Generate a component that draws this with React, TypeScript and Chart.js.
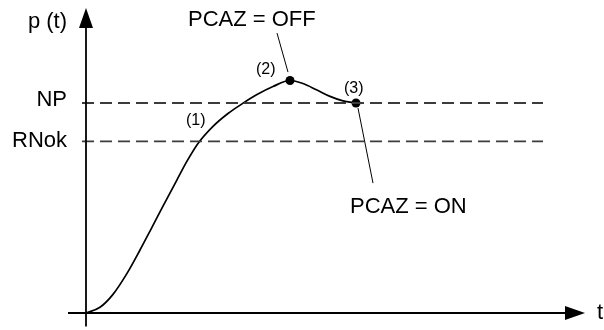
import React, { useEffect, useRef } from "react";
import { Chart, registerables } from "chart.js";

Chart.register(...registerables);

// Pressure curve p(t) (arbitrary units)
const curveT = [0, 0.28, 0.54, 0.82, 1.08, 1.28, 1.54, 1.82, 2.02, 2.24, 2.54, 2.84, 3.12, 3.42, 3.74, 4.08, 4.34, 4.62, 4.88, 5.14, 5.4];
const curveP = [0, 0.19, 0.62, 1.32, 2.1, 2.73, 3.56, 4.44, 5.06, 5.65, 6.22, 6.65, 6.97, 7.28, 7.55, 7.75, 7.65, 7.43, 7.22, 7.07, 7.0];

// Reference levels
const levelNames = ["NP", "RNok"];
const levelValues = [7.0, 5.72];
const levelStart = -0.08;
const levelEnd = 9.14;

// Marked points (2) and (3)
const markerT = [4.08, 5.4];
const markerP = [7.75, 7.0];

// Leader lines: [x1, y1, x2, y2]
const leaderOff = [3.82, 9.33, 4.04, 8.03];
const leaderOn = [5.44, 6.83, 5.74, 4.33];

// Axes extents
const xAxisFrom = -0.36;
const xAxisTip = 9.98;
const yAxisFrom = -0.45;
const yAxisTip = 10.17;

// Text annotations
const annTexts = ["p (t)", "NP", "RNok", "PCAZ = OFF", "PCAZ = ON", "(1)", "(2)", "(3)", "t"];
const annX = [-0.38, -0.38, -0.38, 2.04, 5.28, 2.0, 3.4, 5.16, 10.22];
const annY = [9.7, 7.1, 5.72, 9.77, 3.53, 6.43, 8.1, 7.47, 0];
const annAlign: CanvasTextAlign[] = ["right", "right", "right", "left", "left", "left", "left", "left", "left"];
const annSize = [22, 22, 22, 22, 22, 16, 16, 16, 22];

const FONT = '"Liberation Sans", Arial, Helvetica, sans-serif';

const diagramPlugin = {
  id: "diagram",
  afterDatasetsDraw(chart: any) {
    const ctx: CanvasRenderingContext2D = chart.ctx;
    const xs = chart.scales.x;
    const ys = chart.scales.y;
    ctx.save();
    ctx.fillStyle = "#000";
    // y arrow head
    const ytx = xs.getPixelForValue(0);
    const yty = ys.getPixelForValue(yAxisTip);
    ctx.beginPath();
    ctx.moveTo(ytx, yty);
    ctx.lineTo(ytx - 7, yty + 20);
    ctx.lineTo(ytx + 7, yty + 20);
    ctx.closePath();
    ctx.fill();
    // x arrow head
    const xtx = xs.getPixelForValue(xAxisTip);
    const xty = ys.getPixelForValue(0);
    ctx.beginPath();
    ctx.moveTo(xtx, xty);
    ctx.lineTo(xtx - 20, xty - 7);
    ctx.lineTo(xtx - 20, xty + 7);
    ctx.closePath();
    ctx.fill();
    // texts
    ctx.textBaseline = "middle";
    for (let i = 0; i < annTexts.length; i++) {
      ctx.font = `${annSize[i]}px ${FONT}`;
      ctx.textAlign = annAlign[i];
      ctx.fillText(annTexts[i], xs.getPixelForValue(annX[i]), ys.getPixelForValue(annY[i]));
    }
    ctx.restore();
  },
};

export default function App() {
  const ref = useRef<HTMLCanvasElement>(null);
  useEffect(() => {
    if (!ref.current) return;
    const line = (pts: { x: number; y: number }[], extra: any) => ({
      data: pts,
      showLine: true,
      pointRadius: 0,
      borderColor: "#000",
      borderWidth: 1,
      clip: false,
      ...extra,
    });
    const chart = new Chart(ref.current, {
      type: "scatter",
      data: {
        datasets: [
          line(
            [
              { x: xAxisFrom, y: 0 },
              { x: xAxisTip - 0.3, y: 0 },
            ],
            { borderWidth: 1.8 }
          ),
          line(
            [
              { x: 0, y: yAxisFrom },
              { x: 0, y: yAxisTip - 0.5 },
            ],
            { borderWidth: 1.8 }
          ),
          ...levelValues.map((v, i) =>
            line(
              [
                { x: levelStart, y: v },
                { x: levelEnd, y: v },
              ],
              { label: levelNames[i], borderDash: [12, 6], borderWidth: 1.8, borderColor: "#3c3c3c" }
            )
          ),
          line(
            [
              { x: leaderOff[0], y: leaderOff[1] },
              { x: leaderOff[2], y: leaderOff[3] },
            ],
            {}
          ),
          line(
            [
              { x: leaderOn[0], y: leaderOn[1] },
              { x: leaderOn[2], y: leaderOn[3] },
            ],
            {}
          ),
          line(
            curveT.map((t, i) => ({ x: t, y: curveP[i] })),
            { borderWidth: 1.7, cubicInterpolationMode: "monotone" }
          ),
          {
            data: markerT.map((t, i) => ({ x: t, y: markerP[i] })),
            showLine: false,
            pointRadius: 4.5,
            pointBackgroundColor: "#000",
            pointBorderColor: "#000",
            pointBorderWidth: 0,
            clip: false,
          },
        ],
      },
      options: {
        animation: false,
        responsive: false,
        events: [],
        layout: { padding: { left: 86, right: 18, top: 13, bottom: 17 } },
        scales: {
          x: { type: "linear", min: 0, max: 10, display: false },
          y: { type: "linear", min: 0, max: 10, display: false },
        },
        plugins: { legend: { display: false }, tooltip: { enabled: false } },
      },
      plugins: [diagramPlugin],
    } as any);
    return () => chart.destroy();
  }, []);
  return (
    <div style={{ position: "absolute", left: 0, top: 0, width: 604, height: 330, background: "#fff" }}>
      <canvas ref={ref} width={604} height={330} style={{ display: "block" }} />
    </div>
  );
}
